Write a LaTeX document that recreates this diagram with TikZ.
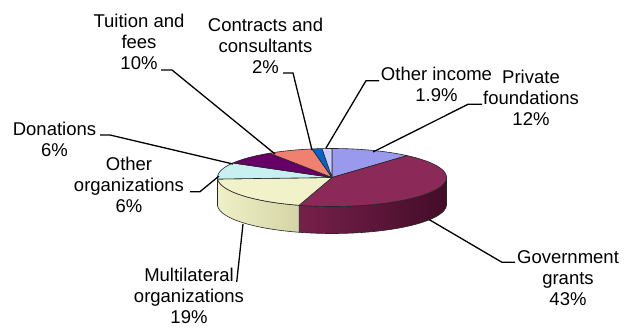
\documentclass[tikz,border=0pt]{standalone}
\usepackage{fontspec}
\setmainfont{Liberation Sans}
\definecolor{pfC}{RGB}{153,153,238}
\definecolor{ggC}{RGB}{139,42,88}
\definecolor{ggSL}{RGB}{118,32,74}
\definecolor{ggSR}{RGB}{68,12,40}
\definecolor{mlC}{RGB}{242,242,202}
\definecolor{mlSL}{RGB}{240,240,200}
\definecolor{mlSR}{RGB}{212,212,166}
\definecolor{ooC}{RGB}{200,240,240}
\definecolor{dnC}{RGB}{102,0,102}
\definecolor{tfC}{RGB}{240,128,112}
\definecolor{ccC}{RGB}{0,102,204}
\definecolor{oiC}{RGB}{204,204,255}
\begin{document}
\begin{tikzpicture}[x=1pt,y=-1pt,
  lbl/.style={font=\fontsize{18.5}{21}\selectfont, align=center, inner sep=0pt, anchor=south},
  leader/.style={draw=black, line width=1.3pt},
  rim/.style={draw=black!85, line width=0.6pt, line join=round}]
\useasboundingbox[fill=white] (0,0) rectangle (624,327);
\coordinate (C) at (332,177.5);
% side faces
\path[rim, left color=ggSL, right color=ggSR]
  plot[domain=-106.7:0,samples=50,variable=\t]({332+114.5*cos(\t)},{177.5-29*sin(\t)})
  -- plot[domain=0:-106.7,samples=50,variable=\t]({332+114.5*cos(\t)},{204.5-29*sin(\t)}) -- cycle;
\path[rim, left color=mlSL, right color=mlSR]
  plot[domain=-177:-106.7,samples=40,variable=\t]({332+114.5*cos(\t)},{177.5-29*sin(\t)})
  -- plot[domain=-106.7:-177,samples=40,variable=\t]({332+114.5*cos(\t)},{204.5-29*sin(\t)}) -- cycle;
\path[rim, fill=ooC!85!black]
  plot[domain=-180:-177,samples=5,variable=\t]({332+114.5*cos(\t)},{177.5-29*sin(\t)})
  -- plot[domain=-177:-180,samples=5,variable=\t]({332+114.5*cos(\t)},{204.5-29*sin(\t)}) -- cycle;
% top faces
\path[rim, fill=pfC] (C) -- plot[domain=90:49,samples=30,variable=\t]({332+114.5*cos(\t)},{177.5-29*sin(\t)}) -- cycle;
\path[rim, fill=ggC] (C) -- plot[domain=49:-106.7,samples=80,variable=\t]({332+114.5*cos(\t)},{177.5-29*sin(\t)}) -- cycle;
\path[rim, fill=mlC] (C) -- plot[domain=-106.7:-177,samples=40,variable=\t]({332+114.5*cos(\t)},{177.5-29*sin(\t)}) -- cycle;
\path[rim, fill=ooC] (C) -- plot[domain=183:150,samples=20,variable=\t]({332+114.5*cos(\t)},{177.5-29*sin(\t)}) -- cycle;
\path[rim, fill=dnC] (C) -- plot[domain=150:123,samples=20,variable=\t]({332+114.5*cos(\t)},{177.5-29*sin(\t)}) -- cycle;
\path[rim, fill=tfC] (C) -- plot[domain=123:100,samples=20,variable=\t]({332+114.5*cos(\t)},{177.5-29*sin(\t)}) -- cycle;
\path[rim, fill=ccC] (C) -- plot[domain=100:95,samples=6,variable=\t]({332+114.5*cos(\t)},{177.5-29*sin(\t)}) -- cycle;
\path[rim, fill=oiC] (C) -- plot[domain=95:90,samples=6,variable=\t]({332+114.5*cos(\t)},{177.5-29*sin(\t)}) -- cycle;
% labels
\node[lbl] (tf) at (139,70) {Tuition and\\fees\\10\%};
\node[lbl] (cc) at (265.5,73.8) {Contracts and\\consultants\\2\%};
\node[lbl] (oi) at (436.5,101.8) {Other income\\1.9\%};
\node[lbl] (pf) at (531,126) {Private\\foundations\\12\%};
\node[lbl] (dn) at (54.5,156.5) {Donations\\6\%};
\node[lbl] (oo) at (129,213.3) {Other\\organizations\\6\%};
\node[lbl] (ml) at (189,323.5) {Multilateral\\organizations\\19\%};
\node[lbl] (gg) at (568,306) {Government\\grants\\43\%};
% leader anchors
\coordinate (tfA) at (161,70);   \coordinate (tfP) at (275,154);
\coordinate (ccA) at (283,73);   \coordinate (ccP) at (312,150);
\coordinate (oiA) at (379,80.7); \coordinate (oiP) at (326,148);
\coordinate (pfA) at (482,104.3);\coordinate (pfP) at (373,152);
\coordinate (dnA) at (100,135);  \coordinate (dnP) at (233,164);
\coordinate (ooA) at (190,191.7);\coordinate (ooP) at (219,176);
\coordinate (mlA) at (236.7,282);\coordinate (mlP) at (243,224);
\coordinate (ggA) at (515,262.3);\coordinate (ggP) at (429,219.5);
\draw[leader] (tfA) -- ++(11,0) -- (tfP);
\draw[leader] (ccA) -- ++(10,0) -- (ccP);
\draw[leader] (oiA) -- ++(-13,0) -- (oiP);
\draw[leader] (pfA) -- ++(-14,0) -- (pfP);
\draw[leader] (dnA) -- ++(10,0) -- (dnP);
\draw[leader] (ooA) -- ++(10,0) -- (ooP);
\draw[leader] (mlA) -- (mlP);
\draw[leader] (ggA) -- ++(-13,0) -- (ggP);
\end{tikzpicture}
\end{document}
